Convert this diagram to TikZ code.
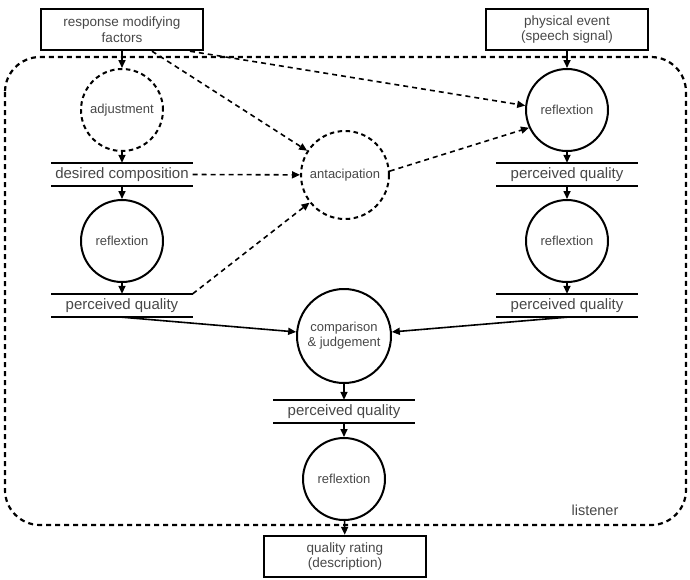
\documentclass[tikz,border=0pt]{standalone}
\usepackage{fontspec}
\setmainfont{Liberation Sans}
\usetikzlibrary{arrows.meta,calc}
\begin{document}
\begin{tikzpicture}[x=1pt,y=-1pt,
 txt/.style={text=black!72},
 box/.style={draw, line width=2.4pt, minimum width=162pt, minimum height=41pt, inner sep=0pt, align=center, font=\fontsize{13.5}{15.5}\selectfont, txt},
 proc/.style={circle, draw, line width=2pt, minimum size=82pt, inner sep=0pt, align=center, font=\fontsize{13}{15}\selectfont, txt},
 dproc/.style={proc, dash pattern=on 4.5pt off 3.5pt},
 barline/.style={draw, line width=2.2pt, -},
 store/.style={minimum width=141pt, minimum height=23pt, inner sep=0pt, font=\fontsize{15}{17}\selectfont, txt,
   append after command={(\tikzlastnode.north west) edge[barline] (\tikzlastnode.north east)
                         (\tikzlastnode.south west) edge[barline] (\tikzlastnode.south east)}},
 arr/.style={-{Triangle[length=8pt,width=7pt]}, line width=1.6pt},
 darr/.style={arr, dash pattern=on 5pt off 4pt}
]
\useasboundingbox (0,0) rectangle (690,579);
\draw[dash pattern=on 5pt off 4pt, line width=2.2pt, rounded corners=35pt] (5,57) rectangle (686,525);

\node[box] (rmf) at (122,29.5) {response modifying\\factors};
\node[box] (phys) at (567,29.5) {physical event\\(speech signal)};
\node[dproc] (adj) at (122,110) {adjustment};
\node[store] (dc) at (122,174.5) {desired composition};
\node[proc] (reflL) at (122,241) {reflextion};
\node[store] (pqL) at (122,305.5) {perceived quality};
\node[dproc, minimum size=88pt] (antic) at (345,175) {antacipation};
\node[proc] (reflR) at (567,110) {reflextion};
\node[store] (pqR1) at (567,174.5) {perceived quality};
\node[proc] (reflR2) at (567,241) {reflextion};
\node[store] (pqR2) at (567,305.5) {perceived quality};
\node[proc, minimum size=94pt] (comp) at (344,336) {comparison\\\& judgement};
\node[store] (pqC) at (344,411.5) {perceived quality};
\node[proc] (reflC) at (344,479) {reflextion};
\node[box] (qr) at (345,556.5) {quality rating\\(description)};
\node[txt, font=\fontsize{14.5}{16}\selectfont] (lis) at (595,510) {listener};

\draw[arr] (rmf) -- (adj);
\draw[arr] (adj) -- (dc.north);
\draw[arr] (dc.south) -- (reflL);
\draw[arr] (reflL) -- (pqL.north);
\draw[arr] (pqL.south) -- (comp);
\draw[arr] (pqR2.south) -- (comp);
\draw[arr] (comp) -- (pqC.north);
\draw[arr] (pqC.south) -- (reflC);
\draw[arr] (reflC) -- (qr);
\draw[arr] (phys) -- (reflR);
\draw[arr] (reflR) -- (pqR1.north);
\draw[arr] (pqR1.south) -- (reflR2);
\draw[arr] (reflR2) -- (pqR2.north);

\draw[darr] ($(rmf.south)+(30,0)$) -- (antic);
\draw[darr] ($(rmf.south)+(68,0)$) -- (reflR.174);
\draw[darr] (dc.east) -- (antic);
\draw[darr] (pqL.north east) -- (antic);
\draw[darr] (antic.5) -- (reflR.205);
\end{tikzpicture}
\end{document}
